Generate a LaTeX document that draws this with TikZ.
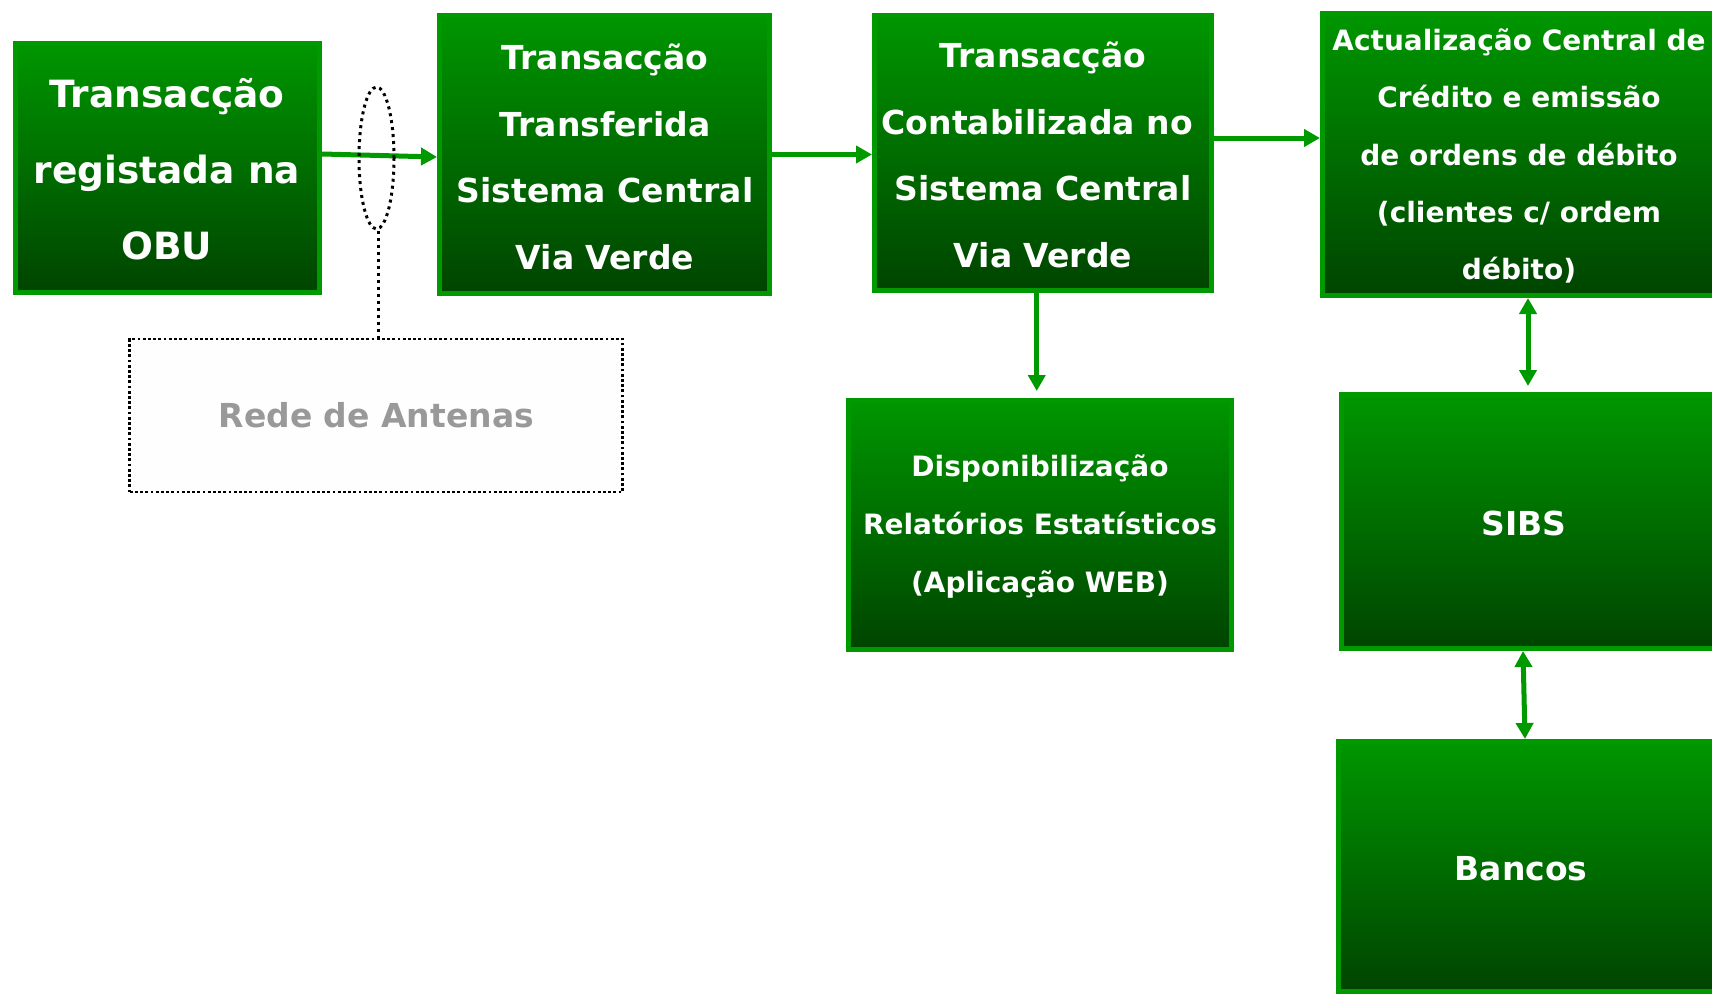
\documentclass[tikz,border=0pt]{standalone}
\usepackage{fontspec}
\setmainfont{DejaVu Sans}
\usetikzlibrary{arrows.meta,shapes.geometric,calc}
\definecolor{gtop}{RGB}{0,150,0}
\definecolor{gbot}{RGB}{0,68,0}
\definecolor{gborder}{RGB}{0,153,0}
\definecolor{garrowc}{RGB}{0,153,0}
\definecolor{redegray}{RGB}{153,153,153}
\definecolor{redefill}{RGB}{254,254,254}
\newcommand\myfs[2]{\fontsize{#1pt}{#2pt}\selectfont\bfseries}
\begin{document}
\begin{tikzpicture}[x=1pt,y=-1pt,
  gbox/.style={draw=gborder, line width=5pt, top color=gtop, bottom color=gbot, inner sep=0pt},
  gtext/.style={text=white, align=center, inner sep=0pt},
  garrow/.style={draw=garrowc, line width=5pt, -{Triangle[width=17pt,length=16pt]}},
  gdarrow/.style={draw=garrowc, line width=5pt, {Triangle[width=17pt,length=16pt]}-{Triangle[width=17pt,length=16pt]}},
  dotline/.style={draw=black, line width=3pt, dash pattern=on 3pt off 4pt},
  dotbox/.style={draw=black, line width=2.8pt, dash pattern=on 2.8pt off 2.4pt}
]
\clip (0,0) rectangle (1712,993);
\fill[white] (0,0) rectangle (1712,993);

% boxes
\node[gbox, minimum width=304pt, minimum height=249pt] (b1) at (167.5,168) {};
\node[gbox, minimum width=330pt, minimum height=278pt] (b2) at (604.5,154.5) {};
\node[gbox, minimum width=336.5pt, minimum height=275pt] (b3) at (1042.75,153) {};
\node[gbox, minimum width=397pt, minimum height=282pt] (b4) at (1521,154.5) {};
\node[gbox, minimum width=383pt, minimum height=249pt] (b5) at (1040,525) {};
\node[gbox, minimum width=378pt, minimum height=254pt] (sibs) at (1530.5,521.5) {};
\node[gbox, minimum width=381pt, minimum height=250pt] (bancos) at (1529,866.5) {};

% texts
\node[gtext, font=\myfs{37.5}{76}] (t1) at (167,169.5) {Transacção\\registada na\\OBU};
\node[gtext, font=\myfs{33}{66.6}] (t2) at (605,157) {Transacção\\Transferida\\Sistema Central\\Via Verde};
\node[gtext, font=\myfs{33}{66.6}] (t3) at (1043,155) {Transacção\\Contabilizada no\ \null\\Sistema Central\\Via Verde};
\node[gtext, font=\myfs{28}{57.4}] (t4) at (1519,156) {Actualização Central de\\Crédito e emissão\\de ordens de débito\\(clientes c/ ordem\\débito)};
\node[gtext, font=\myfs{28}{58}] (t5) at (1040,527) {Disponibilização\\Relatórios Estatísticos\\(Aplicação WEB)};
\node[gtext, font=\myfs{33}{66}] (tsibs) at (1524,523) {SIBS};
\node[gtext, font=\myfs{33}{66}] (tbancos) at (1521,869) {Bancos};

% antenna network
\node[dotbox, fill=redefill, minimum width=493pt, minimum height=153pt, inner sep=0pt,
      text=redegray, font=\myfs{33}{66}] (rede) at (376.3,415.5) {Rede de Antenas};

% arrows
\draw[garrow] ([yshift=14pt]b1.east) -- ([yshift=-2.5pt]b2.west);
\draw[garrow] (b2.east) -- (b2.east -| b3.west);
\draw[garrow] ([yshift=15pt]b3.east) coordinate (s3) -- (s3 -| b4.west);
\draw[garrow, shorten >=7pt] ([xshift=-6pt]b3.south) coordinate (s4) -- (s4 |- b5.north);
\draw[gdarrow, shorten >=6pt] ([xshift=7pt]b4.south) coordinate (s5) -- (s5 |- sibs.north);
\draw[gdarrow] ([xshift=-7.5pt]sibs.south) -- ([xshift=-4pt]bancos.north);

% ellipse and dotted connector
\node[ellipse, dotline, minimum width=35pt, minimum height=142pt, inner sep=0pt] (ell) at (376.5,158) {};
\draw[dotline] ([xshift=1.5pt]ell.south) -- ([xshift=1.5pt]ell.south |- rede.north);
\end{tikzpicture}
\end{document}
